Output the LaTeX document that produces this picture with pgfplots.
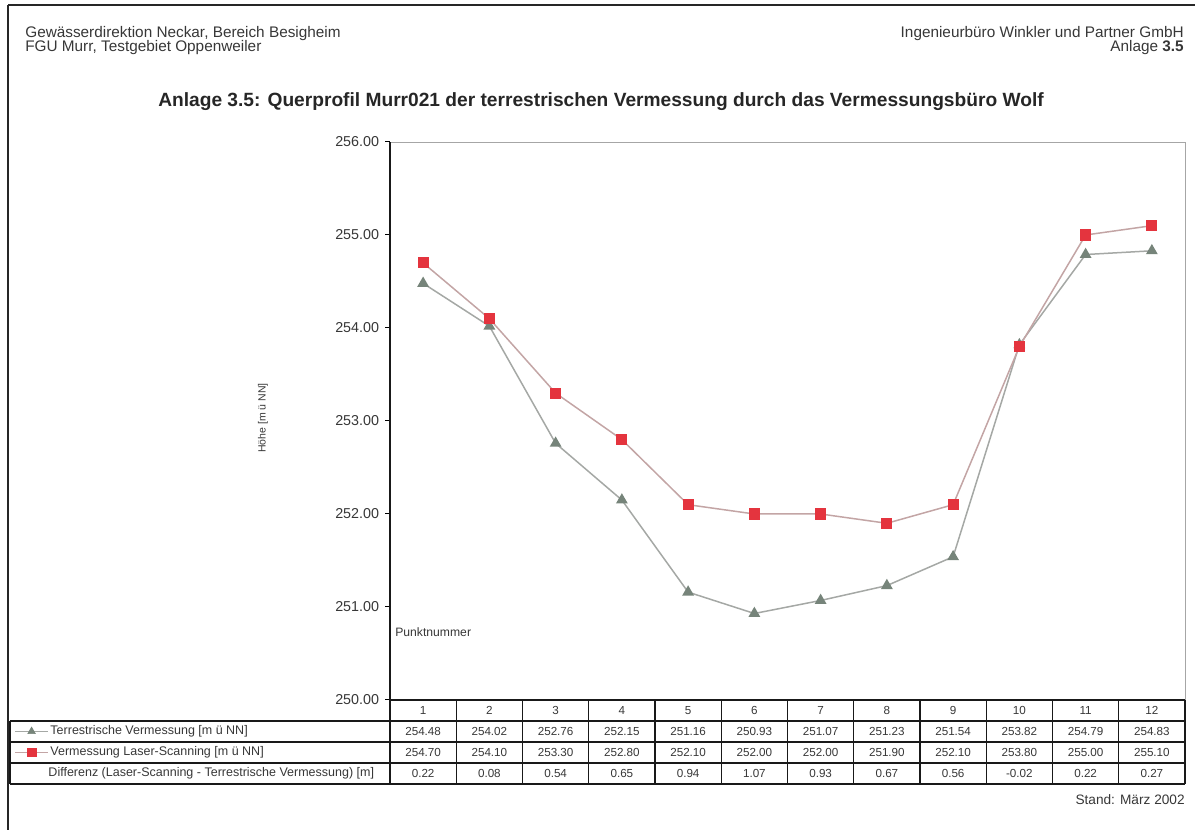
\documentclass[border=0pt]{standalone}
\usepackage{pgfplots}
\pgfplotsset{compat=1.18}
\usepackage{pgfplotstable}
\usepackage{fontspec}
\setmainfont{Liberation Sans}
\definecolor{terrline}{RGB}{165,168,165}
\definecolor{terrmark}{RGB}{118,132,122}
\definecolor{laserline}{RGB}{195,165,165}
\definecolor{lasermark}{RGB}{228,52,62}
\definecolor{txt}{RGB}{55,55,55}

\pgfplotstableread{
x terr laser diff
1 254.48 254.70 0.22
2 254.02 254.10 0.08
3 252.76 253.30 0.54
4 252.15 252.80 0.65
5 251.16 252.10 0.94
6 250.93 252.00 1.07
7 251.07 252.00 0.93
8 251.23 251.90 0.67
9 251.54 252.10 0.56
10 253.82 253.80 -0.02
11 254.79 255.00 0.22
12 254.83 255.10 0.27
}\data

\pgfplotsset{valstyle/.style={draw=none, mark=none, nodes near coords, point meta=explicit symbolic,
  nodes near coords style={anchor=center, font=\fontsize{7}{8}\selectfont, text=txt}}}

\begin{document}
\begin{tikzpicture}
\begin{scope}[x=0.6pt,y=-0.6pt,every node/.style={inner sep=0pt}]
\path[use as bounding box] (0,0) rectangle (1195,830);
\draw[line width=1.4pt,black!85] (8,5) -- (1195,5);
\draw[line width=1.2pt,black!85] (8,5) -- (8,830);
\node[anchor=base west,font=\fontsize{9.2}{10}\selectfont,text=txt] at (25,38) {Gewässerdirektion Neckar, Bereich Besigheim};
\node[anchor=base west,font=\fontsize{9.2}{10}\selectfont,text=txt] at (25,52) {FGU Murr, Testgebiet Oppenweiler};
\node[anchor=base east,font=\fontsize{9.2}{10}\selectfont,text=txt] at (1184,38) {Ingenieurbüro Winkler und Partner GmbH};
\node[anchor=base east,font=\fontsize{9.2}{10}\selectfont,text=txt] at (1184,52) {Anlage \textbf{3.5}};
\node[anchor=base,font=\fontsize{11.5}{13}\selectfont\bfseries,text=black!85] at (601,107) {Anlage 3.5: Querprofil Murr021 der terrestrischen Vermessung durch das Vermessungsbüro Wolf};
\node[rotate=90,font=\fontsize{6.3}{7}\selectfont,text=txt] at (263,418) {Höhe [m ü NN]};
\node[anchor=west,font=\fontsize{7.3}{8}\selectfont,text=txt] at (395,632) {Punktnummer};
\node[anchor=base east,font=\fontsize{8.2}{10}\selectfont,text=txt] at (1185,804) {Stand: März 2002};
\end{scope}

\begin{axis}[
  at={(234pt,-420pt)}, anchor=south west,
  width=477pt, height=334.8pt, scale only axis,
  xmin=0.5, xmax=12.5, ymin=250, ymax=256,
  xtick=\empty,
  ytick={250,251,252,253,254,255,256}, ytick pos=left,
  yticklabel style={font=\fontsize{8.6}{9}\selectfont, text=txt, /pgf/number format/fixed, /pgf/number format/zerofill, /pgf/number format/precision=2, /pgf/number format/assume math mode=true},
  tick align=outside, major tick length=3pt,
  ytick style={black, line width=0.6pt},
  axis line style={black!35, line width=0.5pt},
  clip=false,
]
\draw[black!90, line width=1.1pt] (rel axis cs:0,0) -- (rel axis cs:0,1);
\draw[black!90, line width=1.1pt] (rel axis cs:0,0) -- (rel axis cs:1,0);
\addplot[terrline, line width=0.9pt, mark=triangle*, mark size=3.2pt, mark options={fill=terrmark, draw=terrmark}] table[x=x,y=terr]{\data};
\addplot[laserline, line width=0.9pt, mark=square*, mark size=2.9pt, mark options={fill=lasermark, draw=lasermark}] table[x=x,y=laser]{\data};
\end{axis}

\begin{axis}[
  at={(234pt,-470.4pt)}, anchor=south west,
  width=477pt, height=50.4pt, scale only axis,
  xmin=0.5, xmax=12.5, ymin=0, ymax=4,
  axis lines=none, clip=false,
]
% table grid
\pgfplotsinvokeforeach{0,1,2,3}{\draw[black!90, line width=0.8pt] (axis cs:-5.236,#1) -- (axis cs:12.5,#1);}
\draw[black!90, line width=0.8pt] (axis cs:-5.236,0) -- (axis cs:-5.236,3);
\pgfplotsinvokeforeach{0.5,1.5,2.5,3.5,4.5,5.5,6.5,7.5,8.5,9.5,10.5,11.5,12.5}{\draw[black!90, line width=0.8pt] (axis cs:#1,0) -- (axis cs:#1,4);}
% values
\addplot[valstyle] table[x=x, y expr=3.5, meta=x]{\data};
\addplot[valstyle] table[x=x, y expr=2.5, meta=terr]{\data};
\addplot[valstyle] table[x=x, y expr=1.5, meta=laser]{\data};
\addplot[valstyle] table[x=x, y expr=0.5, meta=diff]{\data};
% legend samples
\addplot[terrline, line width=0.9pt, mark=none] coordinates {(-5.16,2.5) (-4.66,2.5)};
\addplot[only marks, mark=triangle*, mark size=2.6pt, mark options={fill=terrmark, draw=terrmark}] coordinates {(-4.91,2.5)};
\addplot[laserline, line width=0.9pt, mark=none] coordinates {(-5.16,1.5) (-4.66,1.5)};
\addplot[only marks, mark=square*, mark size=2.6pt, mark options={fill=lasermark, draw=lasermark}] coordinates {(-4.91,1.5)};
\node[anchor=west, inner sep=0pt, font=\fontsize{7.5}{8}\selectfont, text=txt] at (axis cs:-4.63,2.5) {Terrestrische Vermessung [m ü NN]};
\node[anchor=west, inner sep=0pt, font=\fontsize{7.5}{8}\selectfont, text=txt] at (axis cs:-4.63,1.5) {Vermessung Laser-Scanning [m ü NN]};
\node[anchor=west, inner sep=0pt, font=\fontsize{7.5}{8}\selectfont, text=txt] at (axis cs:-4.66,0.5) {Differenz (Laser-Scanning - Terrestrische Vermessung) [m]};
\end{axis}
\end{tikzpicture}
\end{document}
